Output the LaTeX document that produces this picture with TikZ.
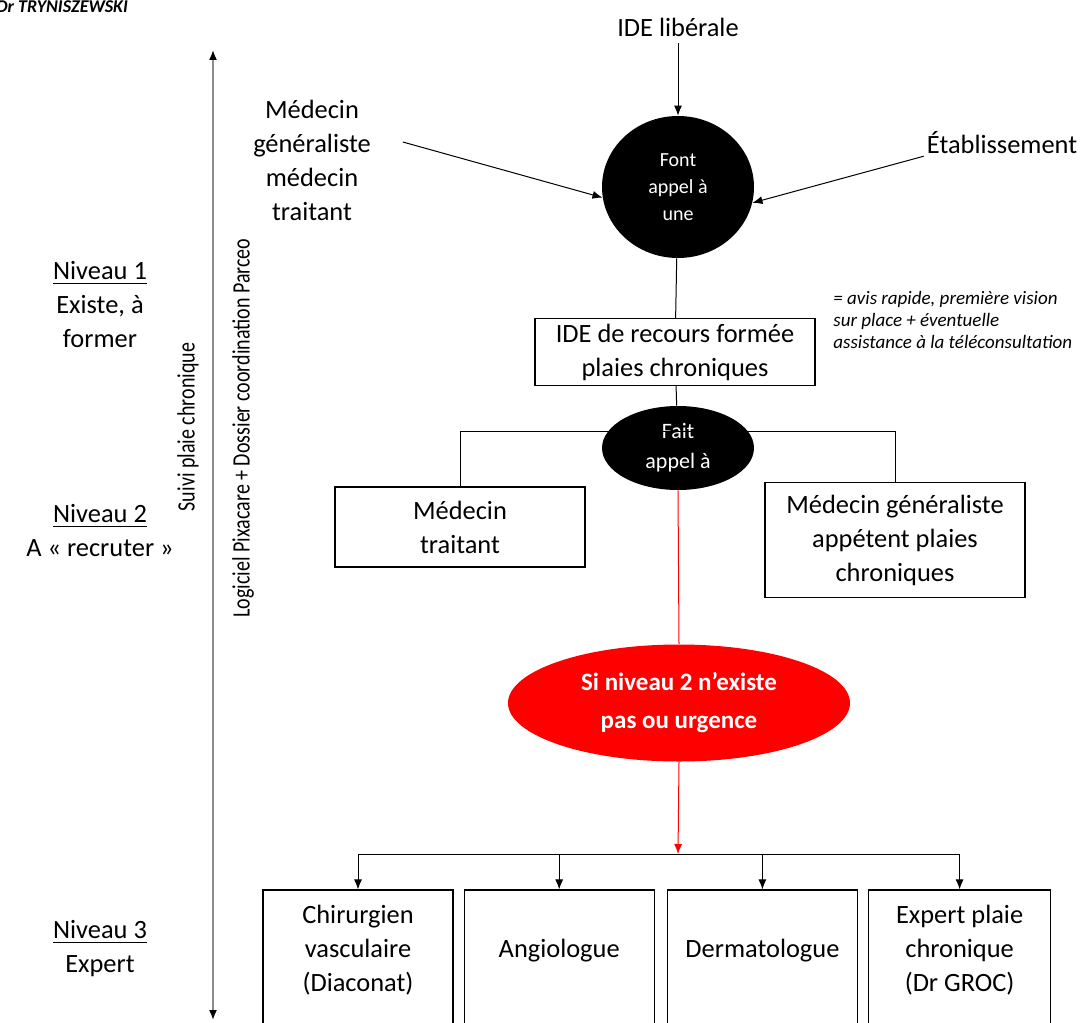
\documentclass[tikz,border=0pt]{standalone}
\usepackage{fontspec}
\setmainfont{Carlito}
\usetikzlibrary{arrows.meta}
\usetikzlibrary{positioning}
\usetikzlibrary{shapes.geometric}

\begin{document}
\begin{tikzpicture}[
				x=0.5pt, y=-0.5pt,
				font=\fontsize{13.2}{17}\selectfont,
				lien/.style={line width=0.5pt},
				arrow/.style={lien, -{Latex[length=5pt,width=4pt]}},
				block/.style={draw, line width=0.6pt, align=center, inner sep=2pt},
				expert/.style={block, minimum width=95pt, minimum height=70pt, text depth=12pt},
				dark/.style={ellipse, fill=black, text=white, align=center, inner sep=0pt},
				alerte/.style={ellipse, fill=red, text=white, align=center, inner sep=0pt, font=\fontsize{12.5}{19}\selectfont\bfseries},
				note/.style={align=left, inner sep=0pt, font=\fontsize{9.5}{10.8}\selectfont\itshape},
				axe/.style={rotate=90, inner sep=0pt, font=\fontsize{12.5}{15}\selectfont},
			]
				\useasboundingbox (0,0) rectangle (1080,1022);

				\node[anchor=base west, inner sep=0pt, font=\fontsize{9}{11}\selectfont\bfseries\itshape] (auteur) at (-4,13) {Dr TRYNISZEWSKI};

				% niveaux
				\node[align=center] (niv1) at (100,305) {\underline{Niveau 1}\\Existe, à\\former};
				\node[align=center] (niv2) at (100,531) {\underline{Niveau 2}\\A « recruter »};
				\node[align=center] (niv3) at (100,949) {\underline{Niveau 3}\\Expert};

				\node[axe] (suivi) at (188,427) {\scalebox{0.8}[1]{Suivi plaie chronique}};
				\node[axe] (logiciel) at (243,428) {\scalebox{0.8}[1]{Logiciel Pixacare + Dossier coordination Parceo}};
				\coordinate (haut) at (213,50);
				\coordinate (bas) at (213,1020);
				\draw[black!45, line width=0.8pt, {Latex[black,length=5pt,width=4pt]}-{Latex[black,length=5pt,width=4pt]}] (haut) -- (bas);

				% appel
				\node (ide) at (678,27) {IDE libérale};
				\node[dark, minimum width=76pt, minimum height=71pt, font=\fontsize{10}{13.5}\selectfont] (appel1) at (678,187) {Font\\appel à\\une};
				\node[align=center] (medgen) at (312,160) {Médecin\\généraliste\\médecin\\traitant};
				\node (etab) at (1002,143) {Établissement};
				\node[block, minimum width=140pt, minimum height=33.5pt] (recours) at (675,352) {IDE de recours formée\\plaies chroniques};
				\node[note, anchor=west] (avis) at (833,320) {= avis rapide, première vision\\sur place + éventuelle\\assistance à la téléconsultation};

				\draw[arrow] (ide) -- (appel1);
				\draw[arrow] ([shift={(25,-18)}]medgen.east) -- (appel1.188);
				\draw[arrow] ([shift={(4,-5)}]etab.south west) -- (appel1.-12);
				\draw[lien] (appel1) -- (recours);

				% niveau 2
				\node[dark, minimum width=76pt, minimum height=42pt, font=\fontsize{11}{15}\selectfont] (appel2) at (678,448) {Fait\\appel à};
				\node[block, minimum width=125pt, minimum height=40pt] (traitant) at (460,527) {Médecin\\traitant};
				\node[block, minimum width=130pt, minimum height=57.5pt] (appetent) at (895,540) {Médecin généraliste\\appétent plaies\\chroniques};

				\draw[lien] (recours) -- (appel2);
				\draw[lien] (traitant.north) -- ++(0,-55) -| (appetent.north);

				% niveau 3
				\node[alerte, minimum width=171pt, minimum height=58.5pt] (urgence) at (679,703) {Si niveau 2 n’existe\\pas ou urgence};
				\coordinate (hub) at (678,854);
				\node[expert] (chir) at (358,960) {Chirurgien\\vasculaire\\(Diaconat)};
				\node[expert, right=5pt of chir] (angio) {Angiologue};
				\node[expert, right=6pt of angio] (derma) {Dermatologue};
				\node[expert, minimum width=91pt, right=5pt of derma] (groc) {Expert plaie\\chronique\\(Dr GROC)};

				\draw[lien, red] (appel2.south) -- (urgence.north);
				\draw[arrow, red] (urgence.south) -- (hub);
				\draw[arrow] (hub) -| (chir.north);
				\draw[arrow] (hub) -| (angio.north);
				\draw[arrow] (hub) -| (derma.north);
				\draw[arrow] (hub) -| (groc.north);
			\end{tikzpicture}
\end{document}
